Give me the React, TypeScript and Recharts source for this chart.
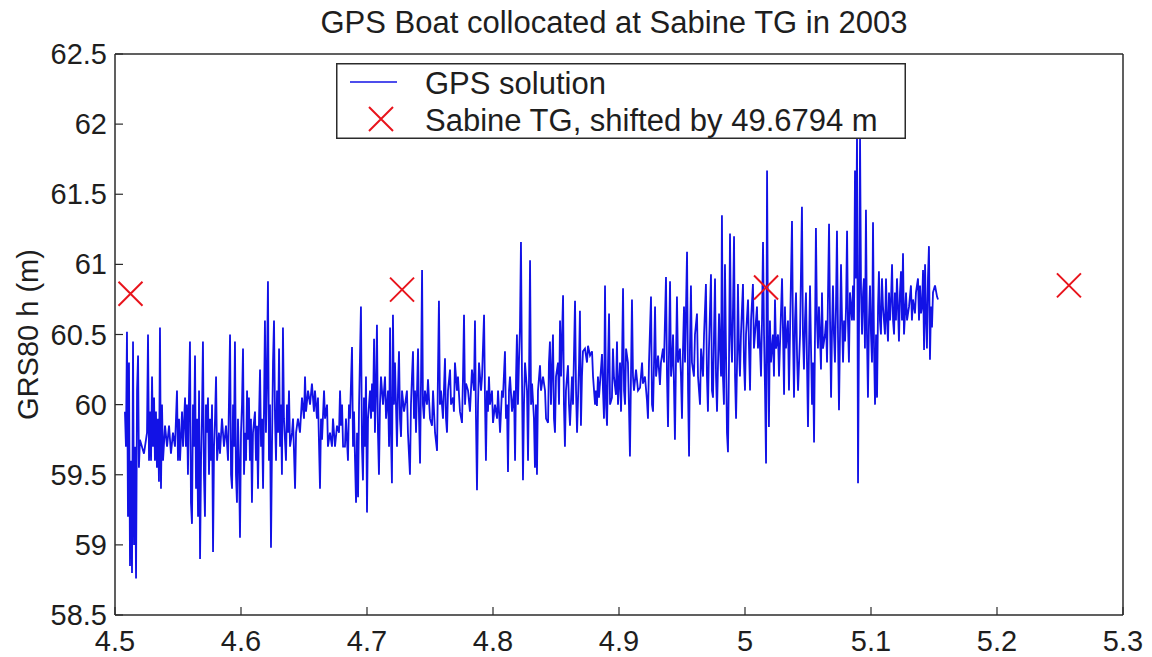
import { ComposedChart, Line, Scatter, XAxis, YAxis, Legend, Label } from "recharts";

const FONT = '"Liberation Sans", Arial, Helvetica, sans-serif';
const AXIS_COLOR = "#2b2b2b";
const GPS_COLOR = "#1212e6";
const TG_COLOR = "#e8141c";
const TICK_LEN = 8;

const xTicks = [4.5, 4.6, 4.7, 4.8, 4.9, 5, 5.1, 5.2, 5.3];
const yTicks = [58.5, 59, 59.5, 60, 60.5, 61, 61.5, 62, 62.5];

// GPS boat heights, [day, GRS80 h], split by tenth of a day
const gps45: [number, number][] = [
  [4.5079, 59.95], [4.5087, 59.7], [4.5095, 60.52], [4.5103, 59.2], [4.5111, 60.3], [4.5119, 58.85],
  [4.5127, 59.6], [4.5135, 58.8], [4.5143, 60.45], [4.5151, 59.0], [4.5159, 59.7], [4.5167, 58.76],
  [4.5175, 60.1], [4.5183, 60.35], [4.519, 59.55], [4.5198, 59.75], [4.5214, 59.7], [4.523, 59.65],
  [4.5246, 59.75], [4.5254, 59.8], [4.5262, 60.5], [4.527, 59.6], [4.5278, 59.95], [4.5286, 59.6],
  [4.5294, 60.2], [4.5302, 59.7], [4.531, 60.05], [4.5317, 59.6], [4.5325, 59.95], [4.5333, 59.55],
  [4.5341, 59.9], [4.5349, 59.45], [4.5357, 60.55], [4.5365, 59.4], [4.5373, 60.0], [4.5381, 59.6],
  [4.5397, 59.85], [4.5413, 59.7], [4.5429, 59.85], [4.5444, 59.65], [4.546, 59.8], [4.5476, 59.7],
  [4.5492, 60.1], [4.55, 59.6], [4.5508, 59.9], [4.5516, 59.6], [4.5532, 59.95], [4.554, 59.7],
  [4.5556, 60.05], [4.5563, 59.7], [4.5571, 60.0], [4.5579, 59.5], [4.5587, 60.05], [4.5595, 60.45],
  [4.5603, 59.3], [4.5611, 59.15], [4.5619, 60.0], [4.5627, 59.7], [4.5635, 60.35], [4.5643, 59.4],
  [4.5651, 59.9], [4.5659, 59.2], [4.5667, 60.1], [4.5675, 58.9], [4.5683, 59.6], [4.569, 59.9],
  [4.5698, 60.45], [4.5706, 59.5], [4.5714, 59.2], [4.5722, 60.0], [4.573, 59.8], [4.5738, 60.05],
  [4.5746, 59.5], [4.5754, 59.9], [4.5762, 59.6], [4.577, 60.0], [4.5778, 58.95], [4.5786, 59.7],
  [4.5794, 59.9], [4.5802, 60.2], [4.581, 59.6], [4.5825, 59.8], [4.5833, 59.65], [4.5849, 59.9],
  [4.5865, 59.7], [4.5881, 59.85], [4.5897, 59.6], [4.5913, 60.5], [4.5921, 59.5], [4.5929, 59.4],
  [4.5937, 60.0], [4.5944, 59.7], [4.5952, 60.45], [4.596, 59.5], [4.5968, 59.3], [4.5976, 59.9],
  [4.5984, 59.6], [4.5992, 59.05],
];

const gps46: [number, number][] = [
  [4.6, 59.8], [4.6008, 60.0], [4.6016, 60.4], [4.6024, 59.5], [4.6032, 59.8], [4.604, 59.6],
  [4.6048, 60.1], [4.6056, 59.75], [4.6063, 60.05], [4.6071, 59.6], [4.6079, 59.9], [4.6087, 59.3],
  [4.6095, 59.8], [4.6111, 59.95], [4.6119, 59.6], [4.6127, 59.85], [4.6135, 59.4], [4.6143, 59.9],
  [4.6151, 60.25], [4.6159, 59.7], [4.6167, 59.9], [4.6175, 59.4], [4.6183, 60.0], [4.619, 60.6],
  [4.6198, 59.8], [4.6206, 60.2], [4.6214, 60.88], [4.6222, 59.6], [4.623, 60.0], [4.6238, 58.98],
  [4.6246, 59.7], [4.6254, 60.3], [4.6262, 60.6], [4.627, 59.9], [4.6278, 59.6], [4.6286, 60.1],
  [4.6294, 59.8], [4.6302, 60.4], [4.631, 59.7], [4.6317, 60.0], [4.6325, 59.5], [4.6333, 60.55],
  [4.6341, 59.9], [4.6349, 59.75], [4.6357, 59.6], [4.6365, 60.0], [4.6373, 59.8], [4.6381, 60.1],
  [4.6389, 59.7], [4.6405, 59.8], [4.6413, 59.9], [4.6429, 59.4], [4.6437, 59.8], [4.6452, 59.9],
  [4.6468, 59.8], [4.6484, 60.05], [4.65, 59.9], [4.6508, 60.2], [4.6516, 59.95], [4.6532, 60.1],
  [4.6548, 60.0], [4.6563, 60.15], [4.6579, 59.95], [4.6587, 60.1], [4.6603, 59.9], [4.6611, 60.05],
  [4.6627, 59.4], [4.6635, 59.9], [4.6643, 59.75], [4.6659, 60.1], [4.6667, 59.9], [4.6683, 60.0],
  [4.669, 59.7], [4.6706, 59.8], [4.6722, 59.7], [4.673, 59.9], [4.6746, 59.7], [4.6762, 59.85],
  [4.6778, 59.8], [4.6786, 60.1], [4.6794, 59.85], [4.6802, 60.0], [4.681, 59.7], [4.6825, 59.7],
  [4.6833, 59.9], [4.6849, 59.6], [4.6857, 60.0], [4.6865, 59.9], [4.6881, 60.41], [4.6889, 59.7],
  [4.6897, 59.95], [4.6905, 59.6], [4.6913, 59.3], [4.6921, 59.8], [4.6929, 59.34], [4.6937, 60.0],
  [4.6952, 60.7], [4.696, 59.7], [4.6968, 59.46], [4.6976, 60.05], [4.6984, 59.7], [4.6992, 60.2],
];

const gps47: [number, number][] = [
  [4.7, 59.23], [4.7008, 59.9], [4.7016, 60.0], [4.7024, 60.1], [4.7032, 59.9], [4.704, 60.15],
  [4.7048, 59.95], [4.7056, 60.47], [4.7063, 59.8], [4.7071, 60.1], [4.7079, 60.57], [4.7087, 59.8],
  [4.7095, 59.5], [4.7103, 60.0], [4.7111, 60.2], [4.7127, 60.0], [4.7143, 60.2], [4.7151, 59.9],
  [4.7167, 60.1], [4.7175, 59.7], [4.7183, 60.55], [4.719, 59.8], [4.7198, 59.44], [4.7206, 60.64],
  [4.7214, 60.0], [4.7222, 60.3], [4.7238, 59.7], [4.7246, 60.1], [4.7254, 60.38], [4.7262, 59.9],
  [4.727, 59.77], [4.7278, 60.1], [4.7294, 59.95], [4.7302, 60.0], [4.7317, 60.1], [4.7325, 59.8],
  [4.7341, 59.5], [4.7349, 60.0], [4.7357, 60.2], [4.7365, 60.38], [4.7373, 59.9], [4.7381, 60.1],
  [4.7389, 59.8], [4.7405, 60.4], [4.7413, 59.9], [4.7421, 59.58], [4.7429, 60.2], [4.7437, 60.96],
  [4.7444, 60.0], [4.7452, 59.9], [4.746, 60.1], [4.7476, 60.0], [4.7484, 60.18], [4.75, 59.9],
  [4.7516, 59.85], [4.7524, 60.1], [4.754, 59.8], [4.7556, 59.67], [4.7563, 60.2], [4.7571, 60.74],
  [4.7579, 60.0], [4.7587, 60.1], [4.7603, 59.9], [4.7619, 60.33], [4.7627, 59.9], [4.7635, 59.8],
  [4.7643, 60.1], [4.7659, 60.25], [4.7667, 60.0], [4.7683, 60.05], [4.769, 59.95], [4.7698, 60.3],
  [4.7714, 60.1], [4.7722, 60.2], [4.7738, 59.95], [4.7754, 59.87], [4.7762, 60.2], [4.777, 60.64],
  [4.7778, 60.0], [4.7786, 60.15], [4.7802, 60.1], [4.7817, 59.95], [4.7833, 60.25], [4.7849, 60.1],
  [4.7857, 60.6], [4.7865, 59.9], [4.7873, 59.39], [4.7881, 60.0], [4.7889, 60.3], [4.7905, 60.1],
  [4.7913, 60.2], [4.7929, 60.64], [4.7937, 60.0], [4.7944, 59.6], [4.7952, 60.1], [4.796, 59.95],
  [4.7968, 60.2], [4.7976, 60.0], [4.7992, 60.1],
];

const gps48: [number, number][] = [
  [4.8, 59.87], [4.8016, 60.0], [4.8032, 59.9], [4.804, 60.1], [4.8056, 59.8], [4.8071, 60.1],
  [4.8079, 60.05], [4.8095, 60.38], [4.8103, 59.9], [4.8111, 60.0], [4.8119, 59.52], [4.8127, 60.1],
  [4.8135, 60.2], [4.8151, 59.95], [4.8167, 60.1], [4.8175, 59.6], [4.8183, 60.2], [4.819, 60.5],
  [4.8198, 60.0], [4.8206, 60.3], [4.8214, 60.55], [4.8222, 61.16], [4.823, 60.2], [4.8238, 59.46],
  [4.8246, 60.0], [4.8254, 60.3], [4.827, 60.1], [4.8278, 59.6], [4.8286, 60.2], [4.8294, 61.03],
  [4.8302, 60.0], [4.831, 60.15], [4.8325, 59.9], [4.8333, 59.55], [4.8341, 60.0], [4.8349, 59.5],
  [4.8357, 60.1], [4.8373, 60.28], [4.8381, 60.1], [4.8397, 60.2], [4.8413, 60.1], [4.8421, 59.9],
  [4.8437, 59.87], [4.8444, 60.3], [4.8452, 60.45], [4.846, 60.0], [4.8476, 60.5], [4.8484, 59.9],
  [4.8492, 59.8], [4.85, 60.2], [4.8516, 60.3], [4.8524, 60.0], [4.8532, 60.6], [4.854, 60.2],
  [4.8556, 60.78], [4.8563, 60.0], [4.8571, 59.7], [4.8579, 60.1], [4.8595, 60.28], [4.8603, 60.0],
  [4.8611, 59.85], [4.8627, 60.2], [4.8635, 60.0], [4.8651, 60.74], [4.8659, 60.1], [4.8667, 59.8],
  [4.8683, 60.3], [4.869, 60.67], [4.8698, 59.85], [4.8706, 60.2], [4.8714, 60.38], [4.873, 60.4],
  [4.8746, 60.3], [4.8754, 60.42], [4.877, 60.35], [4.8786, 60.38], [4.8794, 60.2], [4.881, 60.0],
  [4.8817, 60.1], [4.8825, 59.99], [4.8833, 60.2], [4.8841, 60.05], [4.8849, 60.15], [4.8865, 60.36],
  [4.8873, 60.1], [4.8881, 59.9], [4.8889, 60.85], [4.8897, 60.0], [4.8905, 59.85], [4.8913, 60.3],
  [4.8921, 60.65], [4.8929, 60.0], [4.8944, 60.05], [4.8952, 60.4], [4.896, 60.2], [4.8976, 60.07],
  [4.8984, 60.45], [4.8992, 60.0],
];

const gps49: [number, number][] = [
  [4.9008, 60.3], [4.9016, 59.95], [4.9024, 60.3], [4.9032, 60.83], [4.904, 60.1], [4.9048, 60.0],
  [4.9056, 60.4], [4.9071, 60.3], [4.9079, 60.0], [4.9087, 59.63], [4.9095, 60.2], [4.9103, 60.75],
  [4.9111, 60.2], [4.9119, 60.1], [4.9135, 60.25], [4.9151, 60.1], [4.9167, 60.12], [4.9183, 60.3],
  [4.919, 60.15], [4.9206, 60.2], [4.9222, 60.03], [4.923, 59.9], [4.9238, 60.3], [4.9254, 60.77],
  [4.9262, 60.0], [4.927, 59.95], [4.9278, 60.3], [4.9286, 60.7], [4.9294, 60.2], [4.931, 60.35],
  [4.9325, 60.14], [4.9333, 60.3], [4.9349, 60.4], [4.9357, 60.3], [4.9373, 60.91], [4.9381, 60.2],
  [4.9389, 59.84], [4.9397, 60.4], [4.9405, 60.88], [4.9413, 60.2], [4.9421, 60.3], [4.9429, 60.5],
  [4.9437, 60.1], [4.9444, 59.75], [4.9452, 60.3], [4.946, 60.77], [4.9468, 60.3], [4.9484, 60.4],
  [4.9492, 60.2], [4.95, 59.9], [4.9508, 60.4], [4.9516, 60.7], [4.9524, 60.3], [4.954, 61.09],
  [4.9548, 60.1], [4.9556, 59.63], [4.9563, 60.4], [4.9571, 60.85], [4.9579, 60.3], [4.9595, 60.2],
  [4.9603, 60.5], [4.9619, 60.65], [4.9627, 60.2], [4.9643, 60.0], [4.9651, 60.4], [4.9667, 60.2],
  [4.9675, 60.5], [4.969, 60.86], [4.9698, 60.2], [4.9706, 59.95], [4.9714, 60.4], [4.973, 60.93],
  [4.9738, 60.1], [4.9746, 60.05], [4.9754, 60.5], [4.9762, 60.9], [4.977, 60.2], [4.9778, 59.95],
  [4.9786, 60.3], [4.9794, 60.65], [4.9802, 60.4], [4.981, 60.2], [4.9817, 61.35], [4.9825, 60.2],
  [4.9833, 60.0], [4.9841, 61.0], [4.9849, 60.4], [4.9857, 59.8], [4.9865, 59.66], [4.9873, 60.3],
  [4.9881, 61.22], [4.9889, 60.5], [4.9897, 60.3], [4.9905, 60.7], [4.9913, 61.2], [4.9921, 60.2],
  [4.9929, 59.9], [4.9937, 60.3], [4.9944, 60.86], [4.9952, 60.4], [4.996, 60.2], [4.9968, 60.5],
  [4.9984, 60.86], [4.9992, 60.3],
];

const gps50: [number, number][] = [
  [5.0, 60.1], [5.0008, 60.5], [5.0024, 60.75], [5.0032, 60.4], [5.004, 60.1], [5.0048, 60.6],
  [5.0063, 60.86], [5.0071, 60.4], [5.0079, 60.5], [5.0095, 60.7], [5.0103, 60.4], [5.0111, 60.6],
  [5.0127, 60.2], [5.0135, 60.6], [5.0143, 61.16], [5.0151, 60.5], [5.0159, 60.1], [5.0167, 59.58],
  [5.0175, 61.67], [5.0183, 60.4], [5.019, 59.84], [5.0198, 60.6], [5.0206, 60.3], [5.0222, 60.5],
  [5.023, 60.2], [5.0238, 60.75], [5.0246, 60.4], [5.0262, 60.5], [5.027, 60.2], [5.0294, 60.9],
  [5.0302, 60.5], [5.031, 60.07], [5.0317, 60.7], [5.0325, 60.4], [5.0341, 60.6], [5.0349, 60.1],
  [5.0357, 60.5], [5.0373, 61.31], [5.0381, 60.5], [5.0389, 60.05], [5.0397, 60.6], [5.0405, 60.8],
  [5.0413, 60.35], [5.0421, 60.1], [5.0437, 60.5], [5.0452, 61.41], [5.046, 60.5], [5.0468, 60.25],
  [5.0476, 60.6], [5.0484, 60.8], [5.0492, 60.3], [5.05, 59.84], [5.0508, 60.4], [5.0516, 60.85],
  [5.0524, 60.4], [5.0532, 60.0], [5.054, 60.3], [5.0548, 59.73], [5.0563, 61.26], [5.0571, 60.6],
  [5.0579, 60.4], [5.0587, 60.7], [5.0595, 60.5], [5.0603, 60.25], [5.0611, 60.8], [5.0619, 60.4],
  [5.0635, 60.5], [5.0643, 60.6], [5.0651, 60.3], [5.0667, 61.29], [5.0675, 60.6], [5.0683, 60.05],
  [5.069, 60.5], [5.0698, 60.85], [5.0706, 60.5], [5.0714, 60.3], [5.0722, 60.7], [5.073, 61.24],
  [5.0738, 60.5], [5.0746, 59.96], [5.0754, 60.5], [5.0762, 61.0], [5.077, 60.6], [5.0778, 60.3],
  [5.0786, 60.6], [5.0794, 60.45], [5.0802, 60.7], [5.081, 61.24], [5.0817, 60.6], [5.0825, 60.3],
  [5.0833, 60.8], [5.0849, 60.6], [5.0857, 60.85], [5.0865, 60.6], [5.0873, 61.67], [5.0881, 60.9],
  [5.0889, 61.94], [5.0897, 59.44], [5.0905, 60.6], [5.0913, 61.9], [5.0921, 60.8], [5.0929, 60.5],
  [5.0937, 60.8], [5.0944, 60.9], [5.0952, 60.4], [5.096, 61.39], [5.0968, 60.5], [5.0976, 60.05],
  [5.0984, 60.6], [5.0992, 60.85],
];

const gps51: [number, number][] = [
  [5.1, 60.5], [5.1008, 60.3], [5.1016, 61.3], [5.1024, 60.4], [5.1032, 60.0], [5.104, 60.5],
  [5.1048, 60.05], [5.1056, 60.7], [5.1063, 60.95], [5.1071, 60.6], [5.1079, 60.5], [5.1087, 60.9],
  [5.1095, 60.7], [5.1111, 60.5], [5.1119, 60.9], [5.1127, 60.6], [5.1135, 60.45], [5.1143, 60.8],
  [5.1151, 60.6], [5.1159, 60.75], [5.1167, 61.0], [5.1175, 60.6], [5.1183, 60.5], [5.119, 60.8],
  [5.1198, 60.6], [5.1206, 60.9], [5.1214, 60.7], [5.1222, 60.45], [5.123, 60.8], [5.1238, 60.95],
  [5.1246, 60.6], [5.1254, 61.08], [5.1262, 60.5], [5.127, 60.65], [5.1278, 60.8], [5.1286, 60.6],
  [5.1302, 60.7], [5.1317, 60.85], [5.1325, 60.6], [5.1333, 60.75], [5.1349, 60.65], [5.1357, 60.8],
  [5.1373, 60.9], [5.1381, 60.6], [5.1389, 60.85], [5.1397, 60.65], [5.1405, 60.7], [5.1413, 60.96],
  [5.1421, 60.39], [5.1429, 61.0], [5.1437, 60.6], [5.1444, 60.4], [5.1452, 60.9], [5.146, 61.13],
  [5.1468, 60.32], [5.1476, 60.7], [5.1484, 60.55], [5.1492, 60.8], [5.1508, 60.85], [5.1524, 60.77],
  [5.1532, 60.75],
];

// Sabine tide gauge, already shifted by 49.6794 m
const tgTime = [4.5123, 4.7278, 5.0167, 5.2571];
const tgHeight = [60.79, 60.82, 60.835, 60.85];

const gpsData = [...gps45, ...gps46, ...gps47, ...gps48, ...gps49, ...gps50, ...gps51].map(([t, h]) => ({ t, h }));
const tgData = tgTime.map((t, i) => ({ t, h: tgHeight[i] }));

const BottomTick = ({ x, y, payload }: any) => (
  <g>
    <line x1={x} x2={x} y1={y - 6} y2={y - 6 - TICK_LEN} stroke={AXIS_COLOR} strokeWidth={1.2} />
    <text x={x} y={y + 30} textAnchor="middle" fontSize={29} fill="#1e1e1e" fontFamily={FONT}>
      {payload.value}
    </text>
  </g>
);

const LeftTick = ({ x, y, payload }: any) => (
  <g>
    <line x1={x + 8} x2={x + 8 + TICK_LEN} y1={y} y2={y} stroke={AXIS_COLOR} strokeWidth={1.2} />
    <text x={x} y={y} textAnchor="end" dominantBaseline="central" fontSize={29} fill="#1e1e1e" fontFamily={FONT}>
      {payload.value}
    </text>
  </g>
);

const TopTick = ({ x, y }: any) => (
  <line x1={x} x2={x} y1={y} y2={y + TICK_LEN} stroke={AXIS_COLOR} strokeWidth={1.2} />
);

const RightTick = ({ x, y }: any) => (
  <line x1={x} x2={x - TICK_LEN} y1={y} y2={y} stroke={AXIS_COLOR} strokeWidth={1.2} />
);

const Cross = ({ cx, cy }: any) => (
  <path d={`M${cx - 12},${cy - 12}L${cx + 12},${cy + 12}M${cx + 12},${cy - 12}L${cx - 12},${cy + 12}`} stroke={TG_COLOR} strokeWidth={2} fill="none" />
);

const YTitle = ({ viewBox }: any) => {
  const cx = viewBox.x + 28;
  const cy = viewBox.y + viewBox.height / 2;
  return (
    <text x={cx} y={cy} transform={`rotate(-90 ${cx} ${cy})`} textAnchor="middle" dominantBaseline="central" fontSize={29} fill="#1e1e1e" fontFamily={FONT}>
      GRS80 h (m)
    </text>
  );
};

const LegendBox = () => (
  <svg width={570} height={76} style={{ display: "block" }}>
    <rect x={0.75} y={0.75} width={568.5} height={74.5} fill="#fff" stroke={AXIS_COLOR} strokeWidth={1.5} />
    <line x1={14} x2={61} y1={19} y2={19} stroke={GPS_COLOR} strokeWidth={1.3} />
    <text x={89} y={20} dominantBaseline="central" fontSize={31} fill="#1e1e1e" fontFamily={FONT}>GPS solution</text>
    <Cross cx={45} cy={56} />
    <text x={89} y={57} dominantBaseline="central" fontSize={31} fill="#1e1e1e" fontFamily={FONT}>
      Sabine TG, shifted by 49.6794 m
    </text>
  </svg>
);

export default function App() {
  return (
    <div style={{ position: "absolute", left: 0, top: 0, width: 1152, height: 657, background: "#fff" }}>
      <div
        style={{
          position: "absolute", left: 314, top: 7, width: 600, textAlign: "center",
          fontFamily: FONT, fontSize: 31, lineHeight: "31px", color: "#1e1e1e", zIndex: 2,
        }}
      >
        GPS Boat collocated at Sabine TG in 2003
      </div>
      <ComposedChart width={1152} height={657} margin={{ top: 44, right: 19, bottom: 0, left: 0 }}>
        <XAxis
          dataKey="t" type="number" domain={[4.5, 5.3]} ticks={xTicks} interval={0}
          height={42} tickSize={0} tickMargin={6} tickLine={false}
          axisLine={{ stroke: AXIS_COLOR, strokeWidth: 1.5 }} tick={<BottomTick />}
        />
        <XAxis
          xAxisId="top" orientation="top" type="number" domain={[4.5, 5.3]} ticks={xTicks} interval={0}
          height={10} tickSize={0} tickMargin={0} tickLine={false}
          axisLine={{ stroke: AXIS_COLOR, strokeWidth: 1.5 }} tick={<TopTick />}
        />
        <YAxis
          type="number" domain={[58.5, 62.5]} ticks={yTicks} interval={0}
          width={115} tickSize={0} tickMargin={8} tickLine={false}
          axisLine={{ stroke: AXIS_COLOR, strokeWidth: 1.5 }} tick={<LeftTick />}
        >
          <Label content={<YTitle />} />
        </YAxis>
        <YAxis
          yAxisId="right" orientation="right" type="number" domain={[58.5, 62.5]} ticks={yTicks} interval={0}
          width={10} tickSize={0} tickMargin={0} tickLine={false}
          axisLine={{ stroke: AXIS_COLOR, strokeWidth: 1.5 }} tick={<RightTick />}
        />
        <Legend
          layout="horizontal" verticalAlign="middle" align="center"
          wrapperStyle={{ left: 336, top: 63, width: 570, height: 76 }}
          content={() => <LegendBox />}
        />
        <Line
          data={gpsData} dataKey="h" stroke={GPS_COLOR} strokeWidth={1.8} dot={false}
          isAnimationActive={false} name="GPS solution"
        />
        <Scatter data={tgData} dataKey="h" shape={<Cross />} isAnimationActive={false} name="Sabine TG" />
      </ComposedChart>
    </div>
  );
}
